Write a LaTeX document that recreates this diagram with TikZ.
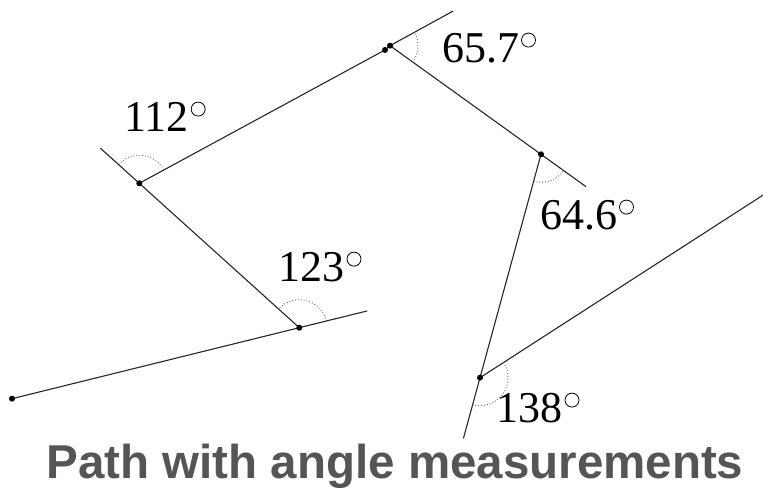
\documentclass[tikz,border=0pt]{standalone}
\usepackage{fontspec}
\setmainfont{Liberation Serif}
\newfontfamily\titlefont{Liberation Sans}
\usetikzlibrary{calc,angles}
\definecolor{titlegray}{HTML}{555555}
\newcommand{\degmark}{\hspace{2pt}\raisebox{15.5pt}{\tikz\draw[line width=0.8pt] (0,0) circle (7pt);}}
\tikzset{
  seg/.style={line width=1.1pt, draw=black!85},
  vdot/.style={circle, fill=black, inner sep=0pt, minimum size=6pt},
  arcmark/.style={draw=black!60, dotted, line width=0.9pt, angle radius=28pt},
  anglabel/.style={anchor=base, inner sep=0pt, font=\fontsize{44}{50}\selectfont},
  titletext/.style={anchor=base, inner sep=0pt, text=titlegray, font=\titlefont\bfseries\fontsize{47.5}{54}\selectfont}
}
\begin{document}
\begin{tikzpicture}[x=1pt,y=1pt]
\useasboundingbox (0,0) rectangle (763,489);
% vertices
\coordinate (P0) at (12,90.3);
\coordinate (P1) at (299.3,161.3);
\coordinate (P2) at (139.3,305.7);
\coordinate (P3a) at (385,439);
\coordinate (P3) at (390,443.3);
\coordinate (P4) at (541,334.7);
\coordinate (P5) at (480,111.3);
\coordinate (P6) at (766,295.8);
% extensions
\coordinate (E1) at ($(P1)!-70pt!(P0)$);
\coordinate (E2) at ($(P2)!-52.5pt!(P1)$);
\coordinate (E3) at ($(P3)!-72pt!(P2)$);
\coordinate (E4) at ($(P4)!-55.3pt!(P3)$);
\coordinate (E5) at ($(P5)!-63pt!(P4)$);
% path
\draw[seg] (P0) -- (P1) -- (P2) -- (P3a) -- (P3) -- (P4) -- (P5) -- (P6);
\draw[seg] (P1) -- (E1);
\draw[seg] (P2) -- (E2);
\draw[seg] (P3) -- (E3);
\draw[seg] (P4) -- (E4);
\draw[seg] (P5) -- (E5);
% angle arcs
\pic[arcmark] {angle = E1--P1--P2};
\pic[arcmark] {angle = P3--P2--E2};
\pic[arcmark] {angle = P4--P3--E3};
\pic[arcmark] {angle = P5--P4--E4};
\pic[arcmark] {angle = E5--P5--P6};
% dots
\foreach \p in {P0,P1,P2,P3a,P3,P4,P5,P6} \node[vdot] (d\p) at (\p) {};
% labels
\node[anglabel] (L2) at (165,357) {112\degmark};
\node[anglabel] (L3) at (489,426) {65.7\degmark};
\node[anglabel] (L4) at (587,259) {64.6\degmark};
\node[anglabel] (L1) at (320,207) {123\degmark};
\node[anglabel] (L5) at (538,66) {138\degmark};
\node[titletext] (title) at (395,10) {Path with angle measurements};
\end{tikzpicture}
\end{document}
